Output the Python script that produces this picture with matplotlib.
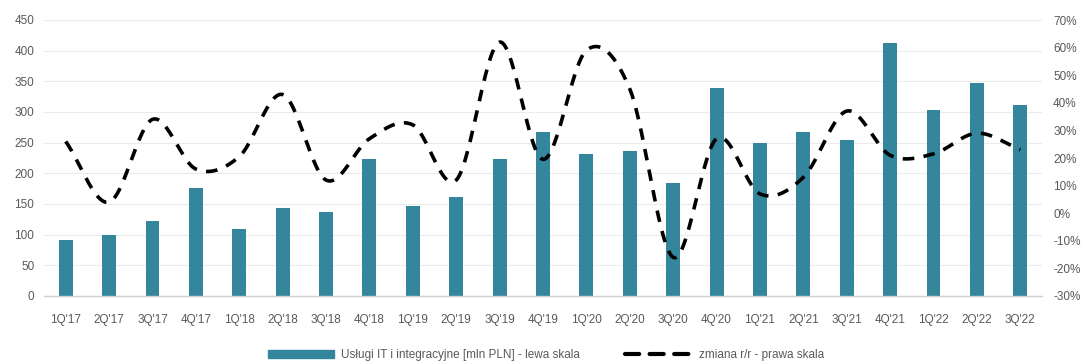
import numpy as np
import matplotlib.pyplot as plt
from matplotlib.lines import Line2D
from matplotlib.patches import Patch

# Quarterly revenue of IT & integration services and its y/y change
quarters = ["1Q'17", "2Q'17", "3Q'17", "4Q'17", "1Q'18", "2Q'18", "3Q'18", "4Q'18",
            "1Q'19", "2Q'19", "3Q'19", "4Q'19", "1Q'20", "2Q'20", "3Q'20", "4Q'20",
            "1Q'21", "2Q'21", "3Q'21", "4Q'21", "1Q'22", "2Q'22", "3Q'22"]
revenue = [91, 100, 122, 176, 110, 143, 137, 224, 146, 161, 223, 268,
           232, 237, 185, 339, 249, 268, 254, 412, 304, 347, 312]
yoy = [26, 4, 34, 16, 20.5, 43, 12, 27, 32, 12, 62, 19.5,
       59, 45, -16, 27, 7, 13, 37, 21, 21.5, 29, 23]

plt.rcParams['font.family'] = ['Liberation Sans', 'DejaVu Sans']
grey = '#595959'
bar_color = '#33869C'


def smooth(x, y, n=30):
    # Catmull-Rom curve through the points (like Excel's smoothed line)
    x = np.asarray(x, float)
    y = np.asarray(y, float)
    px = np.concatenate([[2 * x[0] - x[1]], x, [2 * x[-1] - x[-2]]])
    py = np.concatenate([[2 * y[0] - y[1]], y, [2 * y[-1] - y[-2]]])
    xs, ys = [], []
    t = np.linspace(0, 1, n, endpoint=False)
    for i in range(1, len(px) - 2):
        for arr, out in ((px, xs), (py, ys)):
            p0, p1, p2, p3 = arr[i - 1], arr[i], arr[i + 1], arr[i + 2]
            out.extend(0.5 * (2 * p1 + (-p0 + p2) * t
                              + (2 * p0 - 5 * p1 + 4 * p2 - p3) * t ** 2
                              + (-p0 + 3 * p1 - 3 * p2 + p3) * t ** 3))
    xs.append(x[-1])
    ys.append(y[-1])
    return np.array(xs), np.array(ys)


fig = plt.figure(figsize=(10.81, 3.62), dpi=100)
ax = fig.add_axes([44 / 1081, 1 - 296 / 362, (1042 - 44) / 1081, (296 - 20) / 362])

x = np.arange(len(quarters))
ax.bar(x, revenue, width=0.32, color=bar_color, zorder=2)
ax.set_xlim(-0.5, len(quarters) - 0.5)
ax.set_ylim(0, 450)
ax.set_yticks(range(0, 451, 50))
ax.set_xticks(x)
ax.set_xticklabels(quarters)
ax.grid(axis='y', color='#EBEBEB', linewidth=0.8, zorder=0)
ax.tick_params(length=0, colors=grey, labelsize=8.5)
ax.tick_params(axis='x', pad=13)
ax.tick_params(axis='y', pad=7)
for side in ['top', 'right', 'left']:
    ax.spines[side].set_visible(False)
ax.spines['bottom'].set_color('#D0D0D0')
ax.spines['bottom'].set_linewidth(1.0)

ax2 = ax.twinx()
sx, sy = smooth(x, yoy)
ax2.plot(sx, sy, color='black', linewidth=2.6, dashes=(3.2, 2.6), zorder=3)
ax2.set_ylim(-30, 70)
ax2.set_yticks(range(-30, 71, 10))
ax2.set_yticklabels([f'{v}%' for v in range(-30, 71, 10)])
ax2.tick_params(length=0, colors=grey, labelsize=8.5, pad=8)
for side in ['top', 'right', 'left', 'bottom']:
    ax2.spines[side].set_visible(False)

handles = [Patch(color=bar_color),
           Line2D([0], [0], color='black', linewidth=3, dashes=(3.4, 2.5),
                  dash_capstyle='round')]
labels = ['Usługi IT i integracyjne [mln PLN] - lewa skala', 'zmiana r/r - prawa skala']
fig.legend(handles, labels, loc='center', bbox_to_anchor=(0.505, 1 - 355 / 362),
           ncol=2, frameon=False, fontsize=8.5, labelcolor=grey,
           handlelength=5.6, handleheight=0.65, handletextpad=0.65, columnspacing=3.8)

fig.savefig('out.png', dpi=100)
